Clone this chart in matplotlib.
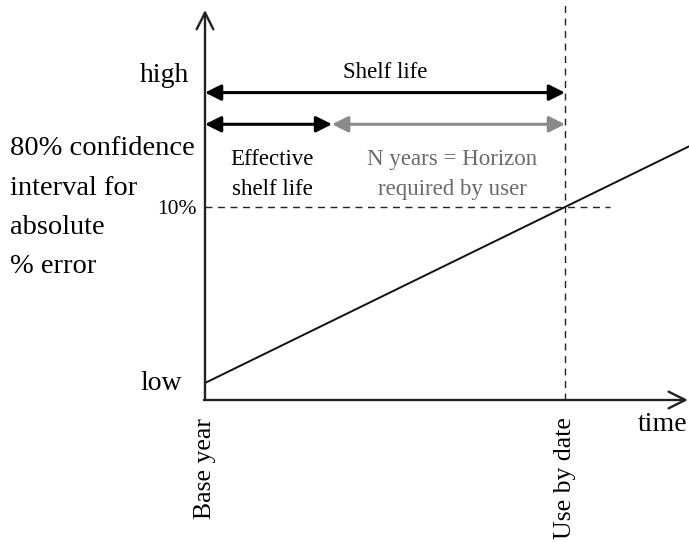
import matplotlib
matplotlib.use('Agg')
import matplotlib.pyplot as plt

plt.rcParams['font.family'] = ['Liberation Serif', 'DejaVu Serif']

# time axis: 0 = base year, 1 = use by date
t_base = 0.0
t_use = 1.0
t_effective = 0.353
t_line = [0.0, 1.344]
# error axis: 0 = low, 1 = the 10% threshold
err_line = [0.0, 1.344]
err_threshold = 1.0
err_high = 1.65
err_sub = 1.47

ylabel_lines = ['80% confidence', 'interval for', 'absolute', '% error']
ylabel_pos = [1.33, 1.105, 0.883, 0.662]

x_lo, x_hi = -205 / 360, 484 / 360
y_lo, y_hi = -159 / 176, 383 / 176
y_xaxis = -17 / 176
y_top = 373 / 176

fig = plt.figure(figsize=(6.89, 5.42), dpi=100)
ax = fig.add_axes([0, 0, 1, 1])
ax.set_xlim(x_lo, x_hi)
ax.set_ylim(y_lo, y_hi)
ax.axis('off')

# axes with open arrow heads
ax.annotate('', xy=(t_base, y_top), xytext=(t_base, y_xaxis),
            arrowprops=dict(arrowstyle='->', lw=1.7, color='#222222',
                            mutation_scale=30, shrinkA=0, shrinkB=0))
ax.annotate('', xy=(x_hi - 0.003, y_xaxis), xytext=(t_base - 0.003, y_xaxis),
            arrowprops=dict(arrowstyle='->', lw=1.7, color='#222222',
                            mutation_scale=30, shrinkA=0, shrinkB=0))

# the error line
ax.plot(t_line, err_line, color='#111111', lw=1.4)

# dashed guides
ax.plot([t_use, t_use], [y_xaxis, y_hi - 0.03], color='#222222', lw=1.0,
        linestyle=(0, (5, 4)))
ax.plot([t_base, 1.125], [err_threshold, err_threshold], color='#222222',
        lw=1.0, linestyle=(0, (5, 4)))

# span arrows
arrow_kw = dict(arrowstyle='<|-|>', lw=2.2, mutation_scale=24,
                shrinkA=0, shrinkB=0)
ax.annotate('', xy=(t_use, err_high), xytext=(t_base, err_high),
            arrowprops=dict(color='black', **arrow_kw))
ax.annotate('', xy=(t_effective, err_sub), xytext=(t_base, err_sub),
            arrowprops=dict(color='black', **arrow_kw))
ax.annotate('', xy=(t_use, err_sub), xytext=(t_effective, err_sub),
            arrowprops=dict(color='#8a8a8a', **arrow_kw))

# text
ax.text((t_base + t_use) / 2, err_high + 0.056, 'Shelf life', ha='center',
        va='bottom', fontsize=16.5)
ax.text(t_effective / 2 + 0.01, err_sub - 0.143, 'Effective\nshelf life',
        ha='center', va='top', fontsize=16.5, linespacing=1.55)
ax.text((t_effective + t_use) / 2 + 0.01, err_sub - 0.143,
        'N years = Horizon\nrequired by user', ha='center', va='top',
        fontsize=16.5, color='#6a6a6a', linespacing=1.55)

ax.text(-0.045, err_high + 0.10, 'high', ha='right', va='center', fontsize=20)
ax.text(-0.063, 0.0, 'low', ha='right', va='center', fontsize=20)
ax.text(-0.022, err_threshold - 0.015, '10%', ha='right', va='center',
        fontsize=15.5)
for line, yy in zip(ylabel_lines, ylabel_pos):
    ax.text(x_lo + 0.028, yy, line, ha='left', va='center', fontsize=20.5)
ax.text(x_hi - 0.005, y_xaxis - 0.07, 'time', ha='right', va='top',
        fontsize=20)
ax.text(t_base, y_xaxis - 0.1, 'Base year', ha='center', va='top',
        rotation=90, fontsize=18.5)
ax.text(t_use, y_xaxis - 0.1, 'Use by date', ha='center', va='top',
        rotation=90, fontsize=18.5)

fig.savefig('out.png', dpi=100)
